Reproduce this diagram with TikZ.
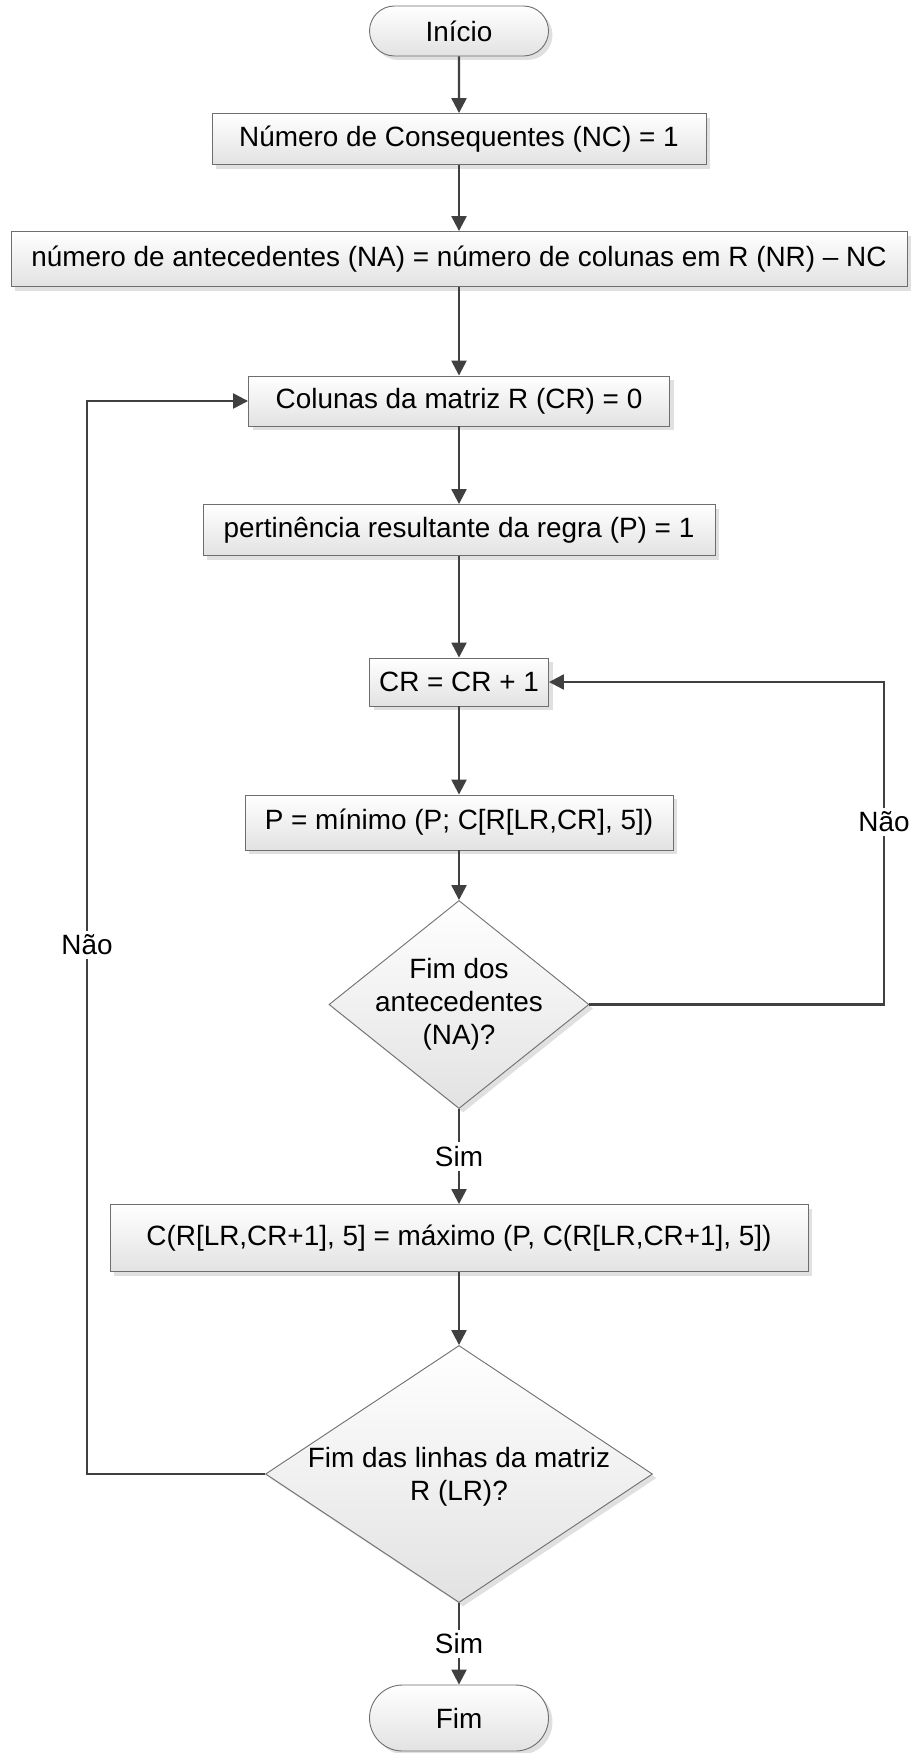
\documentclass[tikz,border=0pt]{standalone}
\usepackage{fontspec}
\setmainfont{Liberation Sans}
\usetikzlibrary{shapes.geometric,shapes.misc,shadows,arrows.meta}
\definecolor{linec}{HTML}{404040}
\definecolor{edgec}{HTML}{6E6E6E}
\definecolor{shadec}{HTML}{E2E2E2}
\definecolor{shadowc}{HTML}{E0E0E0}

\begin{document}
\begin{tikzpicture}[x=1pt,y=-1pt,
  txt/.style={font=\fontsize{27.9}{33}\selectfont, align=center, inner sep=0pt, text=black},
  base/.style={txt, draw=edgec, line width=0.9pt, top color=white, bottom color=shadec,
    drop shadow={shadow xshift=4pt, shadow yshift=-4pt, fill=shadowc, opacity=1}},
  proc/.style={base, rectangle, minimum height=50pt},
  term/.style={base, rounded rectangle, minimum width=179pt, minimum height=50pt},
  decision/.style={base, diamond},
  flow/.style={draw=linec, line width=2.4pt, -{Triangle[length=15pt,width=15pt]}},
  lbl/.style={txt, fill=white, inner sep=4pt},
]
\useasboundingbox (0,0) rectangle (915,1753);

% process chain
\node[term] (start) at (459,31) {Início};
\node[proc, minimum width=494pt, minimum height=51pt] (b1) at (459,139) {Número de Consequentes (NC) = 1};
\node[proc, minimum width=896pt, minimum height=55pt] (b2) at (459,259) {número de antecedentes (NA) = número de colunas em R (NR) – NC};
\node[proc, minimum width=421pt] (b3) at (459,401) {Colunas da matriz R (CR) = 0};
\node[proc, minimum width=512pt, minimum height=51pt] (b4) at (459,530) {pertinência resultante da regra (P) = 1};
\node[proc, minimum width=179pt, minimum height=48pt] (b5) at (459,682) {CR = CR + 1};
\node[proc, minimum width=428pt, minimum height=55pt] (b6) at (459,822.5) {P = mínimo (P; C[R[LR,CR], 5])};
\node[decision, minimum width=260pt, minimum height=208pt] (d1) at (459,1004.5) {};
\node[txt] (d1t) at (459,1004) {Fim dos\\antecedentes\\(NA)?};
\node[proc, minimum width=698pt, minimum height=67pt] (b7) at (459,1238) {C(R[LR,CR+1], 5] = máximo (P, C(R[LR,CR+1], 5])};
\node[decision, minimum width=387pt, minimum height=257pt] (d2) at (459,1474) {};
\node[txt] (d2t) at (459,1477) {Fim das linhas da matriz\\R (LR)?};
\node[term, minimum height=66pt] (end) at (459,1718) {Fim};

% loop corners
\coordinate (L) at (87,945);
\coordinate (R) at (884,822);

% connectors
\draw[flow] (start) -- (b1);
\draw[flow] (b1) -- (b2);
\draw[flow] (b2) -- (b3);
\draw[flow] (b3) -- (b4);
\draw[flow] (b4) -- (b5);
\draw[flow] (b5) -- (b6);
\draw[flow] (b6) -- (d1);
\draw[flow] (d1) -- node[lbl] (sim1) {Sim} (b7);
\draw[flow] (b7) -- (d2);
\draw[flow] (d2) -- node[lbl] (sim2) {Sim} (end);
\draw[flow] (d1.east) -| (R) node[lbl] (nao1) {Não} |- (b5.east);
\draw[flow] (d2.west) -| (L) node[lbl] (nao2) {Não} |- (b3.west);
\end{tikzpicture}
\end{document}
